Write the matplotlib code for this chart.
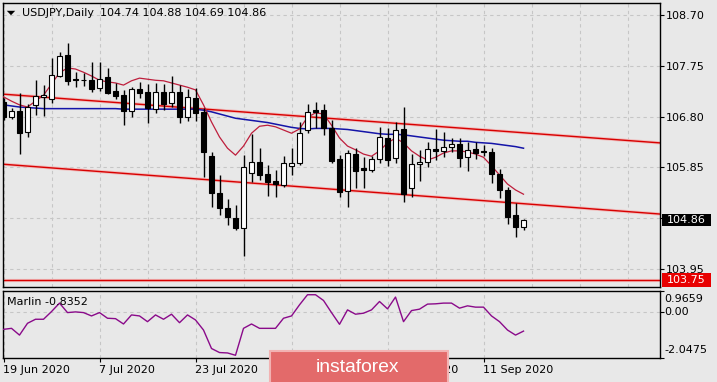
import matplotlib
matplotlib.use('Agg')
import matplotlib.pyplot as plt
from matplotlib.patches import Rectangle, Polygon
from matplotlib.transforms import blended_transform_factory

# ---------------- data ----------------
opens = [107.07,106.79,106.90,106.51,107.02,107.17,107.13,107.56,107.95,107.50,
         107.48,107.48,107.33,107.54,107.28,107.20,106.90,107.32,107.26,106.94,
         107.26,107.05,107.26,106.79,107.15,106.89,106.06,105.37,105.09,104.90,
         104.72,105.75,105.95,105.73,105.60,105.52,105.88,105.93,106.55,106.92,
         106.92,106.59,106.01,105.41,106.10,105.84,105.80,106.01,106.40,106.03,
         106.57,105.46,105.91,105.95,106.19,106.16,106.23,106.29,106.04,106.19,
         106.16,106.14,105.73,105.43,104.96,104.74]
highs = [107.15,106.96,107.24,107.04,107.48,107.39,107.90,108.01,108.18,107.63,
         107.62,107.82,107.82,107.71,107.43,107.30,107.35,107.45,107.41,107.43,
         107.41,107.56,107.39,107.32,107.33,106.96,106.14,105.71,105.26,105.15,
         106.08,106.47,106.21,105.89,105.80,106.06,106.21,106.70,107.04,107.07,
         107.04,106.74,106.08,106.18,106.21,106.04,106.06,106.61,106.59,106.70,
         106.98,106.10,106.18,106.32,106.57,106.51,106.40,106.40,106.32,106.32,
         106.27,106.21,105.82,105.48,105.18,104.88]
lows = [106.74,106.75,106.10,106.42,106.83,106.81,107.05,107.54,107.39,107.35,
        107.37,107.26,107.28,107.22,107.13,106.64,106.79,107.15,106.68,106.87,
        106.92,106.98,106.68,106.72,106.72,105.67,105.11,104.96,104.77,104.68,
        104.19,105.58,105.61,105.32,105.30,105.48,105.71,105.89,106.49,106.59,
        106.46,105.93,105.30,105.11,105.46,105.46,105.76,105.93,105.88,105.93,
        105.20,105.30,105.60,105.86,105.99,106.04,106.14,105.86,105.78,106.01,
        106.06,105.56,105.28,104.79,104.55,104.69]
closes = [106.79,106.90,106.49,106.98,107.19,107.20,107.58,107.93,107.47,107.48,
          107.49,107.32,107.50,107.24,107.19,106.90,107.32,107.24,106.96,107.26,
          107.04,107.26,106.79,107.17,106.87,106.14,105.37,105.09,104.92,104.72,
          105.86,105.95,105.71,105.58,105.54,105.93,105.93,106.49,106.89,106.89,
          106.59,105.97,105.39,106.12,105.78,105.80,106.01,106.42,105.99,106.55,
          105.35,105.91,105.95,106.19,106.16,106.23,106.29,106.03,106.18,106.12,
          106.14,105.73,105.43,104.92,104.74,104.86]
ma_fast = [107.17,107.09,107.02,106.98,107.09,107.20,107.41,107.62,107.71,107.69,
           107.63,107.56,107.48,107.45,107.43,107.39,107.47,107.52,107.50,107.48,
           107.47,107.43,107.39,107.35,107.30,107.02,106.70,106.42,106.21,106.08,
           106.25,106.49,106.62,106.64,106.61,106.55,106.49,106.57,106.79,106.87,
           106.85,106.64,106.40,106.25,106.18,106.10,106.06,106.16,106.31,106.40,
           106.31,106.16,106.06,105.99,106.04,106.12,106.16,106.16,106.14,106.10,
           106.04,105.88,105.71,105.54,105.43,105.35]
ma_slow = [107.02,107.00,106.98,106.97,106.96,106.95,106.95,106.95,106.95,106.95,
           106.95,106.95,106.95,106.95,106.95,106.94,106.94,106.94,106.94,106.94,
           106.94,106.94,106.94,106.94,106.94,106.92,106.89,106.85,106.81,106.77,
           106.75,106.73,106.71,106.69,106.66,106.63,106.60,106.58,106.57,106.58,
           106.58,106.58,106.57,106.56,106.54,106.52,106.50,106.48,106.47,106.47,
           106.46,106.44,106.42,106.40,106.38,106.36,106.35,106.34,106.34,106.32,
           106.31,106.30,106.28,106.26,106.24,106.21]
marlin = [-0.757,-0.712,-1.013,-0.487,-0.307,-0.307,0.035,0.413,-0.010,0.021,
          -0.010,-0.159,-0.010,-0.262,-0.280,-0.518,-0.114,-0.159,-0.415,-0.114,
          -0.307,-0.082,-0.460,-0.114,-0.338,-0.788,-1.611,-1.791,-1.809,-1.913,
          -0.712,-0.518,-0.712,-0.712,-0.712,-0.262,-0.159,0.336,0.786,0.786,
          0.530,-0.010,-0.532,0.111,-0.082,-0.037,0.111,0.485,0.156,0.683,
          -0.415,0.080,0.143,0.368,0.381,0.413,0.413,0.188,0.291,0.233,
          0.233,-0.159,-0.415,-0.788,-1.013,-0.8352]
date_bars = [0, 12, 24, 36, 48, 60]
date_labels = ['19 Jun 2020', '7 Jul 2020', '23 Jul 2020', '',
               '26 Aug 2020', '11 Sep 2020']
price_ticks = [108.70, 107.75, 106.80, 105.85, 104.90, 103.95]
price_tick_labels = ['108.70', '107.75', '106.80', '105.85', '', '103.95']
marlin_range = [-2.0475, 0.9659]
upper_channel = [(0, 107.22), (82, 106.31)]
lower_channel = [(0, 105.91), (82, 104.98)]
support_level = 103.75
symbol = 'USDJPY,Daily'
indicator_name = 'Marlin'

# ---------------- layout ----------------
W, H = 717, 382
BG = '#e8e8e8'
GRID = '#c6c6c6'
FS = 8

def fx(px):
    return px / W

def fy(py):
    return 1 - py / H

fig = plt.figure(figsize=(W / 100, H / 100), dpi=100, facecolor=BG)
L, R = 2.5, 660
ax = fig.add_axes([fx(L), fy(287.3), (R - L) / W, (287.3 - 2.7) / H], facecolor=BG)
ax2 = fig.add_axes([fx(L), fy(358.3), (R - L) / W, (358.3 - 290.7) / H], facecolor=BG)

n = len(closes)
xs = list(range(n))
xmin, xmax = -0.125, 82.06
for a in (ax, ax2):
    a.set_xlim(xmin, xmax)
    for s in a.spines.values():
        s.set_color('black')
        s.set_linewidth(1.0)
    a.set_xticks(list(range(0, 83, 6)))
    a.grid(True, axis='x', color=GRID, linestyle=(0, (3, 3)), linewidth=0.8)
    a.set_axisbelow(True)

# main panel
ax.set_ylim(103.61, 108.93)
ax.yaxis.tick_right()
ax.set_yticks(price_ticks)
ax.set_yticklabels(price_tick_labels)
ax.tick_params(axis='y', direction='out', length=3, width=0.8, pad=1.5,
               labelsize=FS, colors='black')
ax.tick_params(axis='x', length=0, labelbottom=False)
ax.grid(True, axis='y', color=GRID, linestyle=(0, (3, 3)), linewidth=0.8)

# channel lines and level
for (p1, p2) in (upper_channel, lower_channel):
    ax.axline(p1, p2, color='#f0bcbc', lw=2.3, zorder=2)
    ax.axline(p1, p2, color='#d80000', lw=1.0, zorder=2.1)
ax.axhline(support_level, color='#f0bcbc', lw=2.3, zorder=2)
ax.axhline(support_level, color='#d80000', lw=1.0, zorder=2.1)

# moving averages
ax.plot(xs, ma_slow, color='#1414a8', lw=1.1, zorder=3)
ax.plot(xs, ma_fast, color='#be1e3c', lw=0.9, zorder=3)

# candles
for i in range(n):
    o, h, l, c = opens[i], highs[i], lows[i], closes[i]
    ax.vlines(i, l, h, color='black', lw=1.0, zorder=4)
    bottom = min(o, c)
    height = max(abs(c - o), 0.012)
    face = 'white' if c >= o else 'black'
    ax.bar(i, height, bottom=bottom, width=0.58, color=face, edgecolor='black',
           linewidth=0.8, zorder=5)

# price boxes on the right
bt = blended_transform_factory(ax.transAxes, ax.transData)
bx0 = (662 - L) / (R - L)
bw = 49 / (R - L)
for val, col, hpx in ((closes[-1], 'black', 12), (support_level, '#e80000', 14)):
    hh = hpx / 53.47
    ax.add_patch(Rectangle((bx0, val - hh / 2), bw, hh, transform=bt,
                           facecolor=col, edgecolor='none', clip_on=False, zorder=10))
    ax.text(bx0 + bw / 2, val, f'{val:.2f}', transform=bt, color='white',
            fontsize=FS, ha='center', va='center', clip_on=False, zorder=11)

# lower panel
ax2.set_ylim(marlin_range[0], marlin_range[1])
ax2.plot(xs, marlin, color='#8a0a8a', lw=1.0, zorder=3)
ax2.axhline(0, color=GRID, linestyle=(0, (3, 3)), linewidth=0.8, zorder=1)
ax2.yaxis.tick_right()
ax2.set_yticks([marlin_range[1], 0.0, marlin_range[0]])
ax2.set_yticklabels([])
ax2.tick_params(axis='y', direction='out', length=3, width=0.8)
ax2.set_xticks(date_bars)
ax2.set_xticklabels([])
ax2.tick_params(axis='x', direction='out', length=3, width=0.8)
ax2.grid(True, axis='x', color=GRID, linestyle=(0, (3, 3)), linewidth=0.8)
bt2 = blended_transform_factory(ax2.transAxes, ax2.transData)
for val, lab, off in ((marlin_range[1], f'{marlin_range[1]:.4f}', -8),
                      (0.0, '0.00', 0),
                      (marlin_range[0], f'{marlin_range[0]:.4f}', 8)):
    ax2.annotate(lab, xy=(1.0, val), xycoords=bt2, xytext=(4.5, off),
                 textcoords='offset pixels', fontsize=FS, ha='left', va='center',
                 annotation_clip=False)

# date labels
bt3 = blended_transform_factory(ax2.transData, fig.transFigure)
for b, lab in zip(date_bars, date_labels):
    if lab:
        ax2.text(b - 0.1, fy(370), lab, transform=bt3, fontsize=FS, ha='left',
                 va='center', clip_on=False)

# titles
fig.patches.append(Polygon([[fx(6.8), fy(10.8)], [fx(15.2), fy(10.8)], [fx(11), fy(15.2)]],
                           closed=True, transform=fig.transFigure, facecolor='black',
                           edgecolor='none'))
fig.text(fx(22), fy(12.7), symbol, fontsize=FS, va='center', ha='left')
fig.text(fx(100), fy(12.7),
         f'{opens[-1]:.2f} {highs[-1]:.2f} {lows[-1]:.2f} {closes[-1]:.2f}',
         fontsize=FS, va='center', ha='left')
fig.text(fx(7), fy(301.7), f'{indicator_name} {marlin[-1]:.4f}', fontsize=FS,
         va='center', ha='left')

# watermark
fig.patches.append(Rectangle((fx(270), fy(384)), (448 - 270) / W, (384 - 351) / H,
                             transform=fig.transFigure, facecolor='#e36a6a',
                             edgecolor='#f2b2b2', linewidth=1.5, zorder=20))
fig.text(fx(316), fy(372), 'instaforex', fontsize=13.9, color='white',
         family='Liberation Sans', ha='left', va='baseline', zorder=21)

fig.savefig('out.png', dpi=100, facecolor=BG)
